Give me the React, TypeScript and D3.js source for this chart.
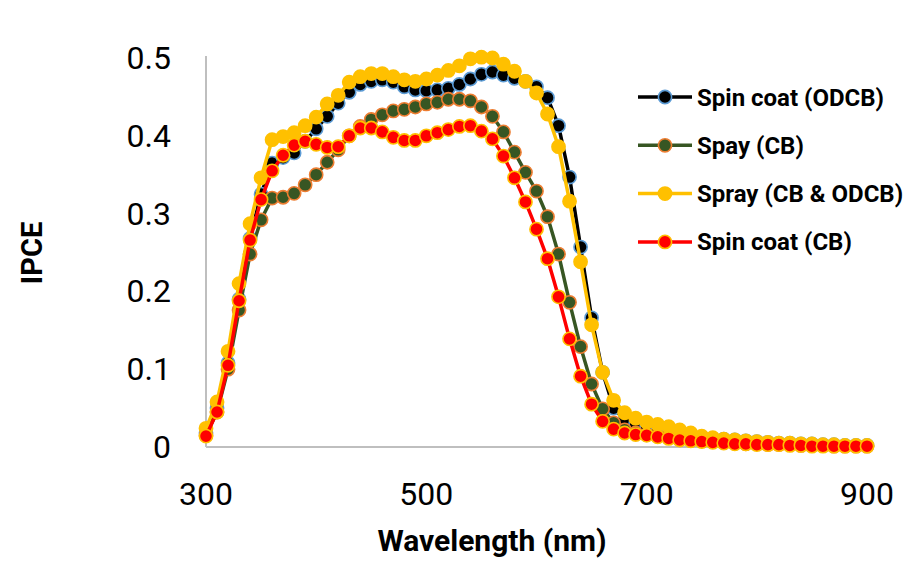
import * as d3 from 'd3';
import React, { useEffect, useRef } from 'react';

// wavelength (nm), one point every 10 nm
const wavelengths = [
  300, 310, 320, 330, 340, 350, 360, 370, 380, 390,
  400, 410, 420, 430, 440, 450, 460, 470, 480, 490,
  500, 510, 520, 530, 540, 550, 560, 570, 580, 590,
  600, 610, 620, 630, 640, 650, 660, 670, 680, 690,
  700, 710, 720, 730, 740, 750, 760, 770, 780, 790,
  800, 810, 820, 830, 840, 850, 860, 870, 880, 890, 900,
];

const spinCoatODCB = [
  0.018, 0.050, 0.108, 0.190, 0.268, 0.325, 0.365, 0.372, 0.378, 0.393,
  0.409, 0.425, 0.442, 0.456, 0.466, 0.470, 0.472, 0.469, 0.463, 0.459,
  0.458, 0.459, 0.461, 0.466, 0.473, 0.479, 0.482, 0.478, 0.474, 0.470,
  0.463, 0.449, 0.413, 0.347, 0.257, 0.166, 0.096, 0.050, 0.035, 0.030,
  0.026, 0.023, 0.020, 0.018, 0.016, 0.013, 0.011, 0.010, 0.009, 0.008,
  0.007, 0.006, 0.005, 0.005, 0.004, 0.004, 0.003, 0.003, 0.002, 0.002, 0.002,
];

const spayCB = [
  0.015, 0.045, 0.100, 0.176, 0.248, 0.292, 0.320, 0.321, 0.326, 0.337,
  0.350, 0.366, 0.382, 0.400, 0.412, 0.421, 0.427, 0.432, 0.434, 0.437,
  0.441, 0.443, 0.447, 0.447, 0.445, 0.437, 0.425, 0.405, 0.379, 0.353,
  0.329, 0.296, 0.248, 0.186, 0.129, 0.081, 0.049, 0.031, 0.022, 0.018,
  0.016, 0.014, 0.012, 0.010, 0.009, 0.008, 0.007, 0.006, 0.005, 0.004,
  0.004, 0.003, 0.003, 0.003, 0.002, 0.002, 0.002, 0.001, 0.001, 0.001, 0.001,
];

const sprayCBODCB = [
  0.024, 0.058, 0.123, 0.210, 0.287, 0.346, 0.395, 0.399, 0.404, 0.413,
  0.424, 0.441, 0.452, 0.469, 0.476, 0.480, 0.480, 0.476, 0.472, 0.470,
  0.473, 0.478, 0.484, 0.490, 0.499, 0.501, 0.500, 0.492, 0.483, 0.470,
  0.455, 0.428, 0.386, 0.316, 0.238, 0.157, 0.096, 0.060, 0.044, 0.037,
  0.032, 0.029, 0.026, 0.022, 0.018, 0.014, 0.012, 0.010, 0.009, 0.008,
  0.007, 0.006, 0.005, 0.005, 0.004, 0.004, 0.003, 0.003, 0.002, 0.002, 0.002,
];

const spinCoatCB = [
  0.014, 0.045, 0.105, 0.188, 0.266, 0.318, 0.355, 0.375, 0.388, 0.393,
  0.389, 0.385, 0.386, 0.400, 0.410, 0.410, 0.405, 0.398, 0.394, 0.394,
  0.400, 0.404, 0.408, 0.412, 0.413, 0.406, 0.396, 0.374, 0.346, 0.315,
  0.280, 0.242, 0.193, 0.139, 0.091, 0.055, 0.033, 0.023, 0.018, 0.016,
  0.015, 0.013, 0.011, 0.009, 0.008, 0.007, 0.006, 0.005, 0.004, 0.004,
  0.003, 0.003, 0.003, 0.002, 0.002, 0.001, 0.001, 0.001, 0.001, 0.001, 0.001,
];

const seriesNames = ['Spin coat (ODCB)', 'Spay (CB)', 'Spray (CB & ODCB)', 'Spin coat (CB)'];
const xTicks = [300, 500, 700, 900];
const yTicks = [0, 0.1, 0.2, 0.3, 0.4, 0.5];

const styles = [
  { line: '#000000', fill: '#000000', stroke: '#5B9BD5' },
  { line: '#375623', fill: '#375623', stroke: '#ED7D31' },
  { line: '#FFC000', fill: '#FFC000', stroke: '#FFC000' },
  { line: '#FF0000', fill: '#FF0000', stroke: '#FFC000' },
];

const W = 921;
const H = 562;

export default function App() {
  const ref = useRef<SVGSVGElement>(null);

  useEffect(() => {
    const svg = d3.select(ref.current);
    svg.selectAll('*').remove();

    const x = d3.scaleLinear().domain([300, 900]).range([206, 867]);
    const y = d3.scaleLinear().domain([0, 0.5]).range([447, 58]);

    const all = [spinCoatODCB, spayCB, sprayCBODCB, spinCoatCB];
    const font = 'Roboto, "Open Sans", sans-serif';

    // axis lines
    svg.append('line')
      .attr('x1', x(300)).attr('x2', x(300))
      .attr('y1', y(0.5) - 2).attr('y2', y(0))
      .attr('stroke', '#BFBFBF').attr('stroke-width', 2);
    svg.append('line')
      .attr('x1', x(300)).attr('x2', x(900))
      .attr('y1', y(0)).attr('y2', y(0))
      .attr('stroke', '#BFBFBF').attr('stroke-width', 2);

    // tick labels
    svg.selectAll('.ytick')
      .data(yTicks)
      .enter()
      .append('text')
      .attr('class', 'ytick')
      .attr('x', 171)
      .attr('y', d => y(d) + 11)
      .attr('text-anchor', 'end')
      .attr('font-family', font)
      .attr('font-size', 32)
      .attr('fill', '#000')
      .text(d => d3.format('')(+d.toFixed(1)));

    svg.selectAll('.xtick')
      .data(xTicks)
      .enter()
      .append('text')
      .attr('class', 'xtick')
      .attr('x', d => x(d))
      .attr('y', 505)
      .attr('text-anchor', 'middle')
      .attr('font-family', font)
      .attr('font-size', 32)
      .attr('fill', '#000')
      .text(d => d);

    // axis titles
    svg.append('text')
      .attr('x', 492).attr('y', 551)
      .attr('text-anchor', 'middle')
      .attr('font-family', font).attr('font-weight', 700)
      .attr('font-size', 30)
      .text('Wavelength (nm)');
    svg.append('text')
      .attr('transform', 'translate(42,253) rotate(-90)')
      .attr('text-anchor', 'middle')
      .attr('font-family', font).attr('font-weight', 700)
      .attr('font-size', 29)
      .text('IPCE');

    const line = d3.line<number>()
      .x((d, i) => x(wavelengths[i]))
      .y(d => y(d));

    all.forEach((vals, s) => {
      const st = styles[s];
      const g = svg.append('g');
      g.append('path')
        .attr('d', line(vals))
        .attr('fill', 'none')
        .attr('stroke', st.line)
        .attr('stroke-width', 3.5)
        .attr('stroke-linejoin', 'round');
      g.selectAll('circle')
        .data(vals)
        .enter()
        .append('circle')
        .attr('cx', (d, i) => x(wavelengths[i]))
        .attr('cy', d => y(d))
        .attr('r', 6.6)
        .attr('fill', st.fill)
        .attr('stroke', st.stroke)
        .attr('stroke-width', 1.6);
    });

    // legend
    const leg = svg.append('g');
    seriesNames.forEach((name, i) => {
      const st = styles[i];
      const ly = 97 + i * 48.3;
      leg.append('line')
        .attr('x1', 638).attr('x2', 692)
        .attr('y1', ly).attr('y2', ly)
        .attr('stroke', st.line).attr('stroke-width', 3.5);
      leg.append('circle')
        .attr('cx', 665).attr('cy', ly).attr('r', 6.6)
        .attr('fill', st.fill).attr('stroke', st.stroke).attr('stroke-width', 1.6);
      leg.append('text')
        .attr('x', 697).attr('y', ly + 8.5)
        .attr('font-family', font).attr('font-weight', 700)
        .attr('font-size', 24)
        .attr('fill', '#000')
        .text(name);
    });
  }, []);

  return (
    <div style={{ position: 'absolute', left: 0, top: 0 }}>
      <svg ref={ref} width={W} height={H} style={{ display: 'block', background: '#fff' }}></svg>
    </div>
  );
}
